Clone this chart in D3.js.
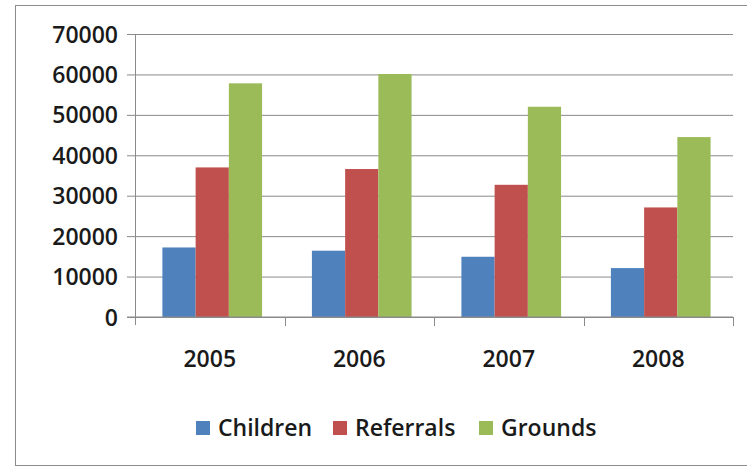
<!DOCTYPE html>
<html>
<head>
<meta charset="utf-8">
<script src="https://cdn.jsdelivr.net/npm/d3@7"></script>
<style>
  body { margin: 0; background: #fff; }
  svg { display: block; }
  text { font-family: "Open Sans", "Liberation Sans", sans-serif; font-weight: 600; fill: #1a1a1a; }
</style>
</head>
<body>
<div id="chart"></div>
<script>
const years = ['2005', '2006', '2007', '2008']
const seriesNames = ['Children', 'Referrals', 'Grounds']
const children = [17200, 16400, 14900, 12100]
const referrals = [37000, 36600, 32700, 27100]
const grounds = [57800, 60100, 52000, 44500]
const yTicks = [0, 10000, 20000, 30000, 40000, 50000, 60000, 70000]

const values = [children, referrals, grounds]
const colors = ['#4F81BD', '#C0504D', '#9BBB59']

const width = 747
const height = 468
const margin = { top: 34, left: 135, right: 14, bottom: 151 }

const svg = d3.select('#chart').append('svg')
  .attr('width', width)
  .attr('height', height)

// outer chart border
svg.append('rect')
  .attr('x', 15.5).attr('y', 5.5)
  .attr('width', 745).attr('height', 460)
  .attr('fill', 'none')
  .attr('stroke', '#8c8c8c')

const x = d3.scaleBand()
  .domain(years)
  .range([margin.left, width - margin.right])

const x1 = d3.scaleBand()
  .domain(seriesNames)
  .range([0, x.bandwidth()])
  .paddingOuter(0.75)
  .align(0.55)

const y = d3.scaleLinear()
  .domain([0, 70000])
  .range([height - margin.bottom, margin.top])

// gridlines + y ticks
svg.append('g')
  .attr('transform', `translate(${margin.left},0)`)
  .call(d3.axisLeft(y)
    .tickValues(yTicks)
    .tickFormat(d3.format('d'))
    .tickSize(-(width - margin.left - margin.right))
    .tickSizeOuter(0)
    .tickPadding(17))
  .call(g => g.select('.domain').remove())
  .call(g => g.selectAll('.tick line')
    .attr('x1', -8)
    .attr('stroke', '#8a8a8a'))
  .call(g => g.selectAll('.tick text')
    .attr('font-size', 23)
    .attr('dy', '0.35em'))

// bars
seriesNames.forEach((name, s) => {
  svg.append('g')
    .attr('fill', colors[s])
    .selectAll('rect')
    .data(years)
    .join('rect')
    .attr('x', (d) => x(d) + x1(name))
    .attr('y', (d, i) => y(values[s][i]))
    .attr('width', x1.bandwidth())
    .attr('height', (d, i) => y(0) - y(values[s][i]))
})

// y axis line
svg.append('line')
  .attr('x1', margin.left + 0.5).attr('x2', margin.left + 0.5)
  .attr('y1', y(70000)).attr('y2', y(0) + 8)
  .attr('stroke', '#8a8a8a')

// x axis
const xAxis = svg.append('g')
  .attr('transform', `translate(0,${y(0)})`)
xAxis.append('line')
  .attr('x1', margin.left - 8).attr('x2', width - margin.right)
  .attr('stroke', '#8a8a8a')
xAxis.selectAll('.boundary')
  .data(years.slice(1).concat(['end']))
  .join('line')
  .attr('x1', (d, i) => Math.round(x(years[i]) + x.bandwidth()) + 0.5)
  .attr('x2', (d, i) => Math.round(x(years[i]) + x.bandwidth()) + 0.5)
  .attr('y1', 0).attr('y2', 9)
  .attr('stroke', '#8a8a8a')
xAxis.selectAll('.label')
  .data(years)
  .join('text')
  .attr('x', (d) => x(d) + x.bandwidth() / 2)
  .attr('y', 42)
  .attr('dy', '0.35em')
  .attr('text-anchor', 'middle')
  .attr('font-size', 23)
  .text((d) => d)

// legend
const legendX = [196, 333, 479]
const legend = svg.append('g')
  .selectAll('g')
  .data(seriesNames)
  .join('g')
  .attr('transform', (d, i) => `translate(${legendX[i]},428)`)
legend.append('rect')
  .attr('y', -7)
  .attr('width', 14).attr('height', 14)
  .attr('fill', (d, i) => colors[i])
legend.append('text')
  .attr('x', 22)
  .attr('dy', '0.35em')
  .attr('font-size', 23)
  .text((d) => d)
</script>
</body>
</html>
